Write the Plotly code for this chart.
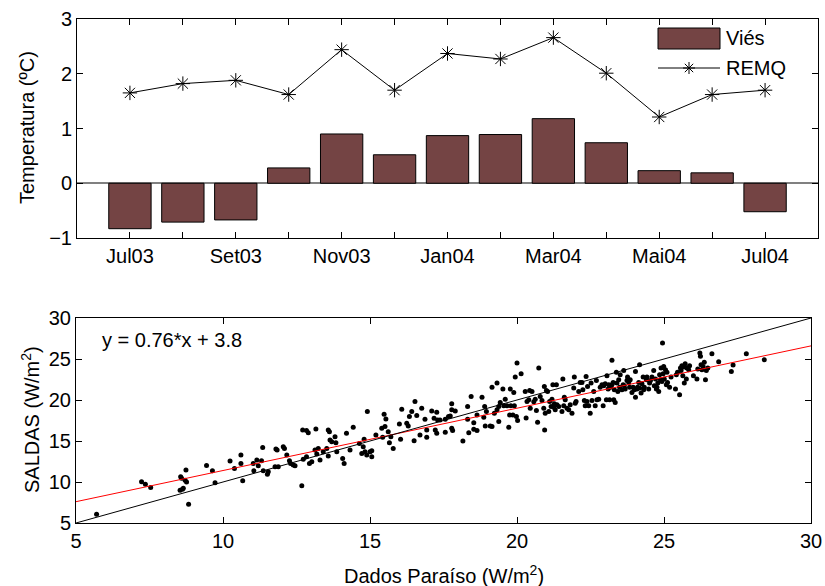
import plotly.graph_objects as go

# ---- monthly bias / RMSE of temperature ----
months = ["Jul03", "Ago03", "Set03", "Out03", "Nov03", "Dez03", "Jan04",
          "Fev04", "Mar04", "Abr04", "Mai04", "Jun04", "Jul04"]
vies = [-0.83, -0.71, -0.67, 0.28, 0.90, 0.52, 0.87, 0.89, 1.18, 0.74, 0.23, 0.19, -0.52]
remq = [1.65, 1.82, 1.88, 1.62, 2.44, 1.70, 2.37, 2.27, 2.66, 2.01, 1.21, 1.62, 1.70]

# ---- daily radiation: Paraiso station vs SALDAS ----
paraiso = [
    5.70, 7.23, 7.36, 7.54, 8.56, 8.59, 8.54, 8.62, 8.65, 8.74, 8.71, 8.76, 8.83,
    9.44, 9.64, 9.73, 10.24, 10.39, 10.61, 10.61, 10.67, 11.03, 11.05, 11.15,
    11.20, 11.31, 11.35, 11.37, 11.51, 11.54, 11.77, 11.80, 11.84, 11.88, 12.05,
    12.09, 12.17, 12.26, 12.30, 12.39, 12.45, 12.68, 12.71, 12.84, 12.90, 12.73,
    12.84, 12.94, 13.02, 13.16, 13.13, 13.19, 13.24, 13.30, 13.41, 13.53, 13.58,
    13.62, 13.58, 13.64, 13.70, 13.81, 13.84, 13.87, 14.07, 14.12, 14.20, 14.32,
    14.43, 14.64, 14.72, 14.77, 14.80, 14.83, 14.89, 14.91, 15.00, 15.06, 15.06,
    15.20, 15.40, 15.43, 15.48, 15.51, 15.54, 15.62, 15.66, 15.71, 15.79, 16.00,
    16.04, 16.08, 16.25, 16.30, 16.34, 16.42, 16.50, 16.53, 16.59, 16.70, 16.76,
    16.87, 16.93, 16.93,
    17.10, 17.18, 17.27, 17.30, 17.22, 17.27, 17.38, 17.56, 17.56, 17.67, 17.73,
    17.78, 17.78, 17.78, 17.81, 17.90, 18.16, 18.32, 18.32, 18.36, 18.44, 18.53,
    18.53, 18.64, 18.64, 18.81, 18.87, 18.90, 18.92, 18.96, 19.09, 19.15, 19.15,
    19.23, 19.32, 19.32, 19.38, 19.38, 19.43, 19.52, 19.55, 19.60, 19.66, 19.72,
    19.75, 19.77, 19.79, 19.86, 19.89, 19.91, 19.94, 19.98, 20.00, 20.02, 20.14,
    20.28, 20.31, 20.34, 20.40, 20.43, 20.45, 20.51, 20.57, 20.62, 20.66, 20.70,
    20.74, 20.79, 20.85, 20.91, 20.93, 20.94, 20.96, 21.00, 21.04, 21.08, 21.11,
    21.16, 21.19, 21.22, 21.25, 21.27, 21.30, 21.34, 21.36, 21.42, 21.53, 21.56,
    21.59, 21.61, 21.64, 21.70, 21.76, 21.81, 21.87, 21.93, 21.95, 21.98, 22.01,
    22.10, 22.15, 22.21, 22.24, 22.29, 22.32, 22.35, 22.38, 22.40, 22.44, 22.49,
    22.52, 22.55, 22.61, 22.66, 22.70, 22.72, 22.78, 22.83, 22.89, 22.93, 22.95,
    23.00, 23.04, 23.06, 23.10, 23.12, 23.15, 23.18, 23.23, 23.23, 23.27, 23.29,
    23.31, 23.34, 23.38, 23.40, 23.43, 23.46, 23.49, 23.51, 23.57, 23.61, 23.63,
    23.65, 23.68, 23.74, 23.76, 23.80, 23.83, 23.85, 23.91, 23.95, 23.99, 24.03,
    24.03, 24.08, 24.10, 24.14, 24.17, 24.17, 24.22, 24.25, 24.29, 24.31, 24.33,
    24.40, 24.42, 24.48, 24.51, 24.54, 24.59, 24.65, 24.67, 24.71, 24.74, 24.76,
    24.79, 24.82, 24.85, 24.88, 24.90, 24.93, 24.95, 24.97, 24.99, 25.01, 25.05,
    25.08, 25.10, 25.12, 25.19, 25.24, 25.39, 25.42, 25.46, 25.53, 25.56, 25.58,
    25.61, 25.64, 25.67, 25.69, 25.72, 25.76, 25.78, 25.84, 25.87, 26.00, 26.12,
    26.15, 26.22, 26.24, 26.26, 26.29, 26.33, 26.37, 26.41, 26.44, 26.49, 26.63,
    26.86, 27.29, 27.35, 27.80, 28.41,
]
saldas = [
    6.06, 10.02, 9.73, 9.33, 10.63, 10.47, 9.00, 9.12, 9.25, 11.45, 10.22, 10.00, 7.29,
    12.02, 11.37, 9.90, 12.55, 11.65, 13.29, 12.27, 10.14, 12.27, 11.37, 12.67,
    11.98, 12.59, 14.22, 11.37, 10.96, 11.24, 11.86, 14.02, 13.90, 11.86, 14.31,
    14.10, 13.29, 12.59, 12.27, 12.06, 11.98, 9.53, 16.35, 16.27, 16.02, 12.76,
    13.08, 12.27, 12.47, 16.47, 13.90, 13.41, 14.10, 12.67, 13.69, 14.10, 16.35,
    16.14, 13.16, 15.12, 14.90, 15.53, 14.80, 13.69, 12.88, 12.27, 15.94, 13.90,
    16.67, 14.71, 13.49, 14.31, 15.20, 13.69, 13.29, 18.59, 13.69, 13.82, 13.08,
    15.73, 16.55, 15.45, 18.27, 16.76, 17.69, 16.14, 14.80, 15.53, 14.10, 17.08,
    15.20, 18.88, 17.16, 16.84, 17.98, 18.59, 15.04, 19.82, 18.10, 15.73, 19.00,
    17.65, 15.45, 16.35,
    18.67, 17.78, 18.51, 17.57, 16.35, 15.94, 17.57, 17.65, 16.06, 17.98, 18.06,
    19.53, 18.80, 16.55, 16.27, 18.67, 15.00, 19.20, 17.65, 16.02, 20.43, 17.24,
    16.43, 16.27, 18.18, 20.35, 17.90, 19.20, 16.84, 18.59, 16.84, 21.57, 16.76,
    18.39, 22.06, 18.80, 19.20, 17.37, 19.69, 21.33, 19.29, 20.10, 19.29, 16.67,
    18.18, 21.33, 19.29, 18.18, 20.92, 19.29, 22.80, 17.98, 24.51, 17.49, 23.20,
    21.04, 17.82, 19.82, 20.02, 21.16, 19.00, 21.04, 19.78, 20.10, 18.71, 17.29,
    23.90, 20.43, 19.94, 19.00, 21.65, 16.35, 18.39, 21.16, 21.04, 18.59, 19.82,
    19.20, 20.10, 21.86, 19.12, 19.53, 18.80, 21.86, 19.41, 19.20, 18.59, 22.55,
    19.29, 20.35, 20.02, 19.00, 18.80, 19.41, 18.39, 21.45, 22.80, 19.61, 19.82,
    21.04, 22.14, 22.14, 21.24, 19.94, 19.29, 22.88, 19.82, 21.65, 19.29, 18.39,
    22.06, 19.94, 21.04, 19.29, 22.39, 20.02, 20.10, 21.57, 21.86, 19.29, 21.73,
    21.98, 20.02, 22.96, 21.33, 21.86, 20.02, 21.57, 24.84, 21.86, 22.14, 20.02,
    21.24, 19.69, 23.37, 22.06, 21.04, 22.47, 21.57, 23.08, 21.24, 21.86, 23.61,
    21.73, 21.33, 22.39, 22.80, 22.14, 21.57, 22.47, 20.92, 21.57, 21.24, 23.49,
    20.35, 21.33, 21.57, 22.14, 24.31, 21.45, 20.84, 21.98, 22.80, 21.24, 21.57,
    22.47, 22.80, 21.33, 22.06, 22.39, 22.80, 23.61, 21.73, 22.55, 21.33, 21.57,
    22.06, 21.04, 23.08, 22.47, 23.90, 22.27, 26.96, 23.20, 24.10, 22.55, 23.69,
    21.86, 23.37, 22.14, 21.57, 22.80, 21.33, 23.08, 23.37, 20.63, 23.90, 23.61,
    24.18, 22.96, 24.02, 22.06, 24.43, 22.55, 23.90, 23.69, 24.18, 22.96, 22.55,
    23.77, 25.73, 25.33, 24.31, 23.69, 24.10, 24.59, 22.47, 23.61, 23.90, 25.65,
    24.67, 23.49, 24.27, 25.65, 24.92,
]

# linear fit y = a*x + b and the 1:1 reference line
fit_slope = 0.76
fit_intercept = 3.8
line_x = [5, 30]

BAR_COLOR = "rgb(116,68,68)"
FONT = "Liberation Sans, Arial, sans-serif"
FS = 20
W, H = 825, 586


def px(x):
    return x / W


def py(y):
    return 1 - y / H


month_pos = list(range(1, len(months) + 1))

fig = go.Figure()

fig.add_trace(go.Bar(
    x=month_pos, y=vies, width=0.8, name="Viés",
    marker=dict(color=BAR_COLOR, line=dict(color="black", width=1)),
    xaxis="x", yaxis="y", showlegend=False,
))
fig.add_trace(go.Scatter(
    x=month_pos, y=remq, mode="lines+markers", name="REMQ",
    line=dict(color="black", width=1),
    marker=dict(symbol="asterisk-open", size=12, color="black",
                line=dict(color="black", width=1)),
    xaxis="x", yaxis="y", showlegend=False,
))

fig.add_trace(go.Scatter(
    x=paraiso, y=saldas, mode="markers",
    marker=dict(color="black", size=5),
    xaxis="x2", yaxis="y2", showlegend=False,
))
fig.add_trace(go.Scatter(
    x=line_x, y=[fit_slope * v + fit_intercept for v in line_x], mode="lines",
    line=dict(color="red", width=1), xaxis="x2", yaxis="y2", showlegend=False,
))
fig.add_trace(go.Scatter(
    x=line_x, y=line_x, mode="lines",
    line=dict(color="black", width=1), xaxis="x2", yaxis="y2", showlegend=False,
))

axis_common = dict(
    showline=True, linecolor="black", linewidth=1, mirror="ticks",
    ticks="inside", ticklen=6, tickcolor="black", tickwidth=1,
    showgrid=False, automargin=False,
    tickfont=dict(family=FONT, size=FS, color="black"),
)

fig.update_layout(
    template="none",
    width=W, height=H,
    margin=dict(l=0, r=0, t=0, b=0, autoexpand=False),
    paper_bgcolor="white", plot_bgcolor="white",
    font=dict(family=FONT, size=FS, color="black"),
    xaxis=dict(domain=[px(77), px(818)], range=[0, 14],
               tickmode="array", tickvals=month_pos[::2], ticktext=months[::2],
               minor=dict(tickmode="linear", tick0=0, dtick=1, ticks="inside",
                          ticklen=6, tickcolor="black", tickwidth=1),
               zeroline=False, anchor="y", **axis_common),
    yaxis=dict(domain=[py(238), py(19)], range=[-1, 3], dtick=1,
               zeroline=True, zerolinecolor="#808080", zerolinewidth=2,
               anchor="x", **axis_common),
    xaxis2=dict(domain=[px(76), px(811)], range=[5, 30], dtick=5,
                zeroline=False, anchor="y2", **axis_common),
    yaxis2=dict(domain=[py(523), py(318)], range=[5, 30], dtick=5,
                zeroline=False, anchor="x2", **axis_common),
)

# legend of the top panel
shapes = [
    dict(type="rect", xref="paper", yref="paper",
         x0=px(658), x1=px(720), y0=py(49), y1=py(28),
         fillcolor=BAR_COLOR, line=dict(color="black", width=1)),
    dict(type="line", xref="paper", yref="paper",
         x0=px(658), x1=px(720), y0=py(68), y1=py(68),
         line=dict(color="black", width=1)),
]
cx, cy, r, rd = 689, 68, 6, 4.2
star = (f"M{px(cx - r)},{py(cy)} L{px(cx + r)},{py(cy)} "
        f"M{px(cx)},{py(cy - r)} L{px(cx)},{py(cy + r)} "
        f"M{px(cx - rd)},{py(cy - rd)} L{px(cx + rd)},{py(cy + rd)} "
        f"M{px(cx - rd)},{py(cy + rd)} L{px(cx + rd)},{py(cy - rd)}")
shapes.append(dict(type="path", xref="paper", yref="paper", path=star,
                   line=dict(color="black", width=1)))

annotations = [
    dict(text="Viés", x=px(724), y=py(38), xref="paper", yref="paper",
         xanchor="left", yanchor="middle", showarrow=False, font=dict(size=FS)),
    dict(text="REMQ", x=px(724), y=py(68), xref="paper", yref="paper",
         xanchor="left", yanchor="middle", showarrow=False, font=dict(size=FS)),
    dict(text="Temperatura (ºC)", x=px(27), y=py(128), xref="paper", yref="paper",
         textangle=-90, xanchor="center", yanchor="middle", showarrow=False,
         font=dict(size=FS)),
    dict(text="SALDAS (W/m<sup>2</sup>)", x=px(30), y=py(420), xref="paper",
         yref="paper", textangle=-90, xanchor="center", yanchor="middle",
         showarrow=False, font=dict(size=FS)),
    dict(text="Dados Paraíso (W/m<sup>2</sup>)", x=px(444), y=py(574),
         xref="paper", yref="paper", xanchor="center", yanchor="middle",
         showarrow=False, font=dict(size=FS)),
    dict(text=f"y = {fit_slope}*x + {fit_intercept}", x=px(100), y=py(340),
         xref="paper", yref="paper", xanchor="left", yanchor="middle",
         showarrow=False, font=dict(size=FS)),
]

fig.update_layout(shapes=shapes, annotations=annotations)

fig.write_html("out.html")
